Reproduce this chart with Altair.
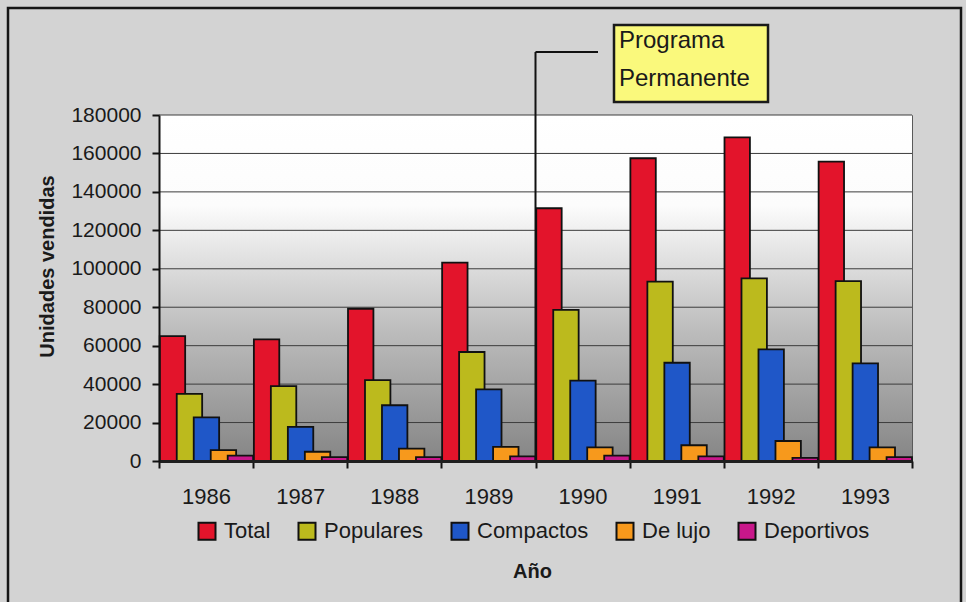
import json
import altair as alt
import pandas as pd

# Ventas anuales de automóviles por segmento
years = ["1986", "1987", "1988", "1989", "1990", "1991", "1992", "1993"]
series = ["Total", "Populares", "Compactos", "De lujo", "Deportivos"]
total = [65000, 63300, 79200, 103200, 131500, 157500, 168400, 155700]
populares = [34900, 39000, 42100, 56700, 78600, 93300, 95000, 93600]
compactos = [22700, 17800, 29000, 37300, 41800, 51100, 58100, 50800]
de_lujo = [5700, 4800, 6400, 7400, 7100, 8200, 10400, 7100]
deportivos = [2800, 2000, 2000, 2400, 2800, 2400, 1600, 2000]
y_ticks = list(range(0, 180001, 20000))
colors = ["#E3142B", "#BCBA1D", "#1F57C8", "#F7991C", "#C8178A"]

FONT = "Liberation Sans"
W, H = 753, 346
N = len(years)

# overlapping columns inside each year (later series drawn in front)
BAR_W = 0.27
LEAD = 0.008
STEP = (1 - LEAD - BAR_W) / (len(series) - 1)

rows = []
for j, (name, vals) in enumerate(zip(series, [total, populares, compactos, de_lujo, deportivos])):
    for i, v in enumerate(vals):
        x0 = i + LEAD + j * STEP
        rows.append({"anio": years[i], "serie": name, "valor": v, "x0": x0, "x1": x0 + BAR_W})
df = pd.DataFrame(rows)
one = pd.DataFrame({"k": [0]})

x_scale = alt.Scale(domain=[0, N], nice=False, zero=False)
y_scale = alt.Scale(domain=[0, 180000], nice=False)

y_axis = alt.Axis(
    values=y_ticks,
    format="d",
    labelFont=FONT,
    labelFontSize=21,
    labelColor="#1a1a1a",
    labelPadding=11,
    labelFlush=False,
    labelOverlap=False,
    tickSize=7,
    tickWidth=2,
    tickColor="#111111",
    domainColor="#111111",
    domainWidth=2,
    grid=False,
    zindex=1,
    title="Unidades vendidas",
    titleFont=FONT,
    titleFontSize=20,
    titleFontWeight="bold",
    titleColor="#1a1a1a",
    titleX=-112,
    titleY=151,
    titleBaseline="middle",
)

gradient = alt.LinearGradient(
    gradient="linear", x1=0, x2=0, y1=0, y2=1,
    stops=[
        alt.GradientStop(offset=0.0, color="#ffffff"),
        alt.GradientStop(offset=0.26, color="#fcfcfc"),
        alt.GradientStop(offset=0.62, color="#bdbdbd"),
        alt.GradientStop(offset=1.0, color="#858585"),
    ],
)

plot_bg = alt.Chart(one).mark_rect(color=gradient).encode(
    x=alt.value(0), x2=alt.value(W), y=alt.value(0), y2=alt.value(H)
)

grid = alt.Chart(pd.DataFrame({"valor": y_ticks})).mark_rule(color="#3c3c3c", strokeWidth=1).encode(
    y=alt.Y("valor:Q", scale=y_scale, axis=y_axis)
)

label_expr = f"datum.value < {N} ? {json.dumps(years)}[datum.value] : ''"

bars = alt.Chart(df).mark_bar(stroke="#111111", strokeWidth=1.8).encode(
    x=alt.X(
        "x0:Q",
        scale=x_scale,
        axis=alt.Axis(
            values=list(range(N + 1)),
            labelExpr=label_expr,
            labelOffset=W / N / 2,
            labelFlush=False,
            labelOverlap=False,
            labelFont=FONT,
            labelFontSize=22,
            labelColor="#1a1a1a",
            labelPadding=18,
            tickSize=7,
            tickWidth=2,
            tickColor="#111111",
            domainColor="#1e1e1e",
            domainWidth=3,
            grid=False,
            zindex=1,
            title="Año",
            titleFont=FONT,
            titleFontSize=20,
            titleFontWeight="bold",
            titleColor="#1a1a1a",
            titleX=373,
            titleY=110,
            titleBaseline="middle",
        ),
    ),
    x2="x1:Q",
    y=alt.Y("valor:Q", stack=None, scale=y_scale, axis=y_axis),
    y2=alt.datum(0),
    color=alt.Color(
        "serie:N",
        scale=alt.Scale(domain=series, range=colors),
        sort=series,
        legend=alt.Legend(
            title=None,
            orient="none",
            direction="horizontal",
            legendX=37,
            legendY=405,
            padding=0,
            symbolType="square",
            symbolSize=289,
            symbolStrokeColor="#111111",
            symbolStrokeWidth=2,
            symbolOpacity=1,
            labelFont=FONT,
            labelFontSize=22,
            labelColor="#1a1a1a",
            labelOffset=6,
            columnPadding=23,
        ),
    ),
)

# "Programa Permanente" callout with its leader line
leader_v = alt.Chart(one).mark_rule(color="#111111", strokeWidth=2).encode(
    x=alt.datum(4), y=alt.value(-63), y2=alt.value(H)
)
leader_h = alt.Chart(one).mark_rule(color="#111111", strokeWidth=2).encode(
    x=alt.datum(4), x2=alt.value(439), y=alt.value(-63)
)
box = alt.Chart(one).mark_rect(fill="#FAF97C", stroke="#1a1a1a", strokeWidth=2.5).encode(
    x=alt.value(455), x2=alt.value(609), y=alt.value(-90), y2=alt.value(-13)
)
box_text = alt.Chart(one).mark_text(
    text=["Programa", "Permanente"],
    font=FONT, fontSize=24, color="#1a1a1a",
    align="left", baseline="alphabetic", lineHeight=38,
).encode(x=alt.value(460), y=alt.value(-67))

# outer frame around the whole figure
frame = alt.Chart(one).mark_rect(fillOpacity=0, stroke="#151515", strokeWidth=2.5).encode(
    x=alt.value(-151), x2=alt.value(802), y=alt.value(-107), y2=alt.value(520)
)

chart = alt.layer(plot_bg, grid, bars, leader_v, leader_h, box, box_text, frame).properties(
    width=W,
    height=H,
    autosize="none",
    padding={"left": 159, "top": 115, "right": 54, "bottom": 141},
    background="#d3d3d3",
).configure_view(stroke="#5a5a5a", strokeWidth=1)

chart.save("out.html", embed_options={"renderer": "svg", "actions": False})
